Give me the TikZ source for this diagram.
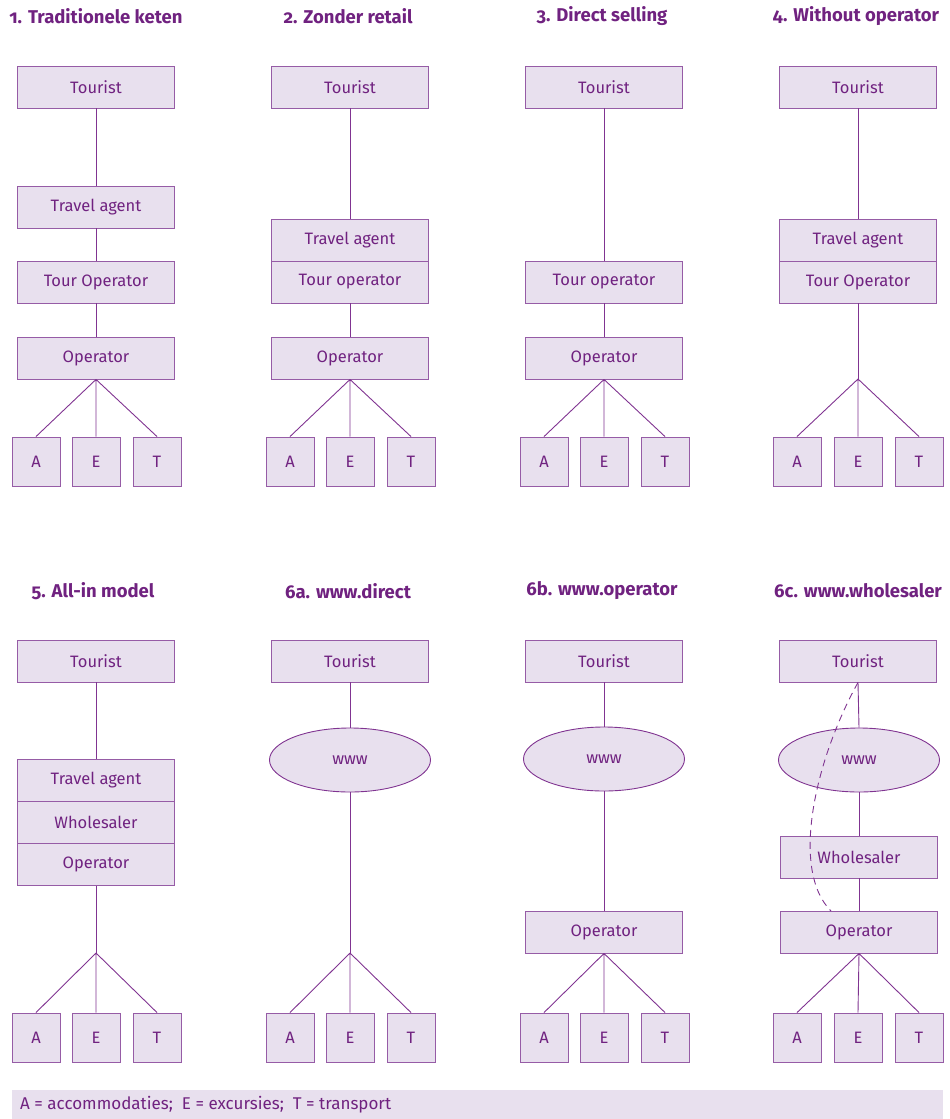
\documentclass[tikz,border=0pt]{standalone}
\usepackage{fontspec}
\setmainfont{Fira Sans}[Numbers=OldStyle]
\usetikzlibrary{shapes.geometric}
\definecolor{ptext}{RGB}{112,34,128}
\definecolor{pline}{RGB}{128,52,145}
\definecolor{pedge}{RGB}{150,92,166}
\definecolor{pfill}{RGB}{232,224,238}
\tikzset{
  box/.style={rectangle, draw=pedge, fill=pfill, line width=0.9pt, minimum width=157pt, minimum height=42pt, inner sep=0pt, text=ptext, font=\fontsize{16.5}{19}\selectfont},
  small/.style={box, minimum width=48pt, minimum height=49pt},
  web/.style={ellipse, draw=pline, fill=pfill, line width=0.9pt, minimum width=161pt, minimum height=64pt, inner sep=0pt, text=ptext, font=\fontsize{16.5}{19}\selectfont},
  title/.style={text=ptext, font=\bfseries\fontsize{18.5}{22}\selectfont, inner sep=0pt},
  conn/.style={draw=pline, line width=0.9pt},
}
\begin{document}
\begin{tikzpicture}[x=1pt,y=-1pt]
\useasboundingbox (0,0) rectangle (950,1119);
% titles
\node[title] (h1) at (96,16) {1. Traditionele keten};
\node[title] (h2) at (348,16) {2. Zonder retail};
\node[title] (h3) at (602,16) {3. Direct selling};
\node[title] (h4) at (856,16) {4. Without operator};
\node[title] (h5) at (93,591) {5. All-in model};
\node[title] (h6) at (348,591) {6a. www.direct};
\node[title] (h7) at (602,591) {6b. www.operator};
\node[title] (h8) at (858,591) {6c. www.wholesaler};
% panel 1
\node[box] (t1) at (96,87) {Tourist};
\node[box] (ta1) at (96,207) {Travel agent};
\node[box] (to1) at (96,282) {Tour Operator};
\node[box] (o1) at (96,358) {Operator};
\node[small] (a1) at (36,461.5) {A};
\node[small] (e1) at (96,461.5) {E};
\node[small] (x1) at (157,461.5) {T};
\draw[conn] (t1.south) -- (ta1.north);
\draw[conn] (ta1.south) -- (to1.north);
\draw[conn] (to1.south) -- (o1.north);
\draw[conn] (o1.south) -- (a1.north) (o1.south) -- (e1.north) (o1.south) -- (x1.north);
% panel 2
\node[box] (t2) at (350,87) {Tourist};
\node[box] (ta2) at (350,240) {Travel agent};
\node[box] (to2) at (350,282) {Tour operator};
\node[box] (o2) at (350,358) {Operator};
\node[small] (a2) at (290,461.5) {A};
\node[small] (e2) at (350,461.5) {E};
\node[small] (x2) at (411,461.5) {T};
\draw[conn] (t2.south) -- (ta2.north);
\draw[conn] (to2.south) -- (o2.north);
\draw[conn] (o2.south) -- (a2.north) (o2.south) -- (e2.north) (o2.south) -- (x2.north);
% panel 3
\node[box] (t3) at (604,87) {Tourist};
\node[box] (to3) at (604,282) {Tour operator};
\node[box] (o3) at (604,358) {Operator};
\node[small] (a3) at (544,461.5) {A};
\node[small] (e3) at (604,461.5) {E};
\node[small] (x3) at (665,461.5) {T};
\draw[conn] (t3.south) -- (to3.north);
\draw[conn] (to3.south) -- (o3.north);
\draw[conn] (o3.south) -- (a3.north) (o3.south) -- (e3.north) (o3.south) -- (x3.north);
% panel 4
\node[box] (t4) at (858,87) {Tourist};
\node[box] (ta4) at (858,240) {Travel agent};
\node[box] (to4) at (858,282) {Tour Operator};
\coordinate (f4) at (858,379);
\node[small] (a4) at (797,461.5) {A};
\node[small] (e4) at (858,461.5) {E};
\node[small] (x4) at (919,461.5) {T};
\draw[conn] (t4.south) -- (ta4.north);
\draw[conn] (to4.south) -- (f4);
\draw[conn] (f4) -- (a4.north) (f4) -- (e4.north) (f4) -- (x4.north);
% panel 5
\node[box] (t5) at (96,661) {Tourist};
\node[box] (ta5) at (96,780) {Travel agent};
\node[box] (w5) at (96,822) {Wholesaler};
\node[box] (o5) at (96,864.5) {Operator};
\coordinate (f5) at (96,953);
\node[small] (a5) at (36,1037.5) {A};
\node[small] (e5) at (96,1037.5) {E};
\node[small] (x5) at (157,1037.5) {T};
\draw[conn] (t5.south) -- (ta5.north);
\draw[conn] (o5.south) -- (f5);
\draw[conn] (f5) -- (a5.north) (f5) -- (e5.north) (f5) -- (x5.north);
% panel 6a
\node[box] (t6) at (350,661) {Tourist};
\node[web] (w6) at (350,760) {www};
\coordinate (f6) at (350,953);
\node[small] (a6) at (290,1037.5) {A};
\node[small] (e6) at (350,1037.5) {E};
\node[small] (x6) at (411,1037.5) {T};
\draw[conn] (t6.south) -- (w6.north);
\draw[conn] (w6.south) -- (f6);
\draw[conn] (f6) -- (a6.north) (f6) -- (e6.north) (f6) -- (x6.north);
% panel 6b
\node[box] (t7) at (604,661) {Tourist};
\node[web] (w7) at (604,759) {www};
\node[box] (o7) at (604,932) {Operator};
\node[small] (a7) at (544,1037.5) {A};
\node[small] (e7) at (604,1037.5) {E};
\node[small] (x7) at (665,1037.5) {T};
\draw[conn] (t7.south) -- (w7.north);
\draw[conn] (w7.south) -- (o7.north);
\draw[conn] (o7.south) -- (a7.north) (o7.south) -- (e7.north) (o7.south) -- (x7.north);
% panel 6c
\node[box] (t8) at (858,661) {Tourist};
\node[web] (w8) at (859,760) {www};
\node[box] (ws8) at (859,857) {Wholesaler};
\node[box] (o8) at (859,932) {Operator};
\node[small] (a8) at (797,1037.5) {A};
\node[small] (e8) at (858,1037.5) {E};
\node[small] (x8) at (919,1037.5) {T};
\coordinate (d8) at (831,911);
\draw[conn] (t8.south) -- (w8.north);
\draw[conn] (w8.south) -- (ws8.north);
\draw[conn] (ws8.south) -- (o8.north);
\draw[conn] (o8.south) -- (a8.north) (o8.south) -- (e8.north) (o8.south) -- (x8.north);
\draw[conn, dash pattern=on 7pt off 5pt] (t8.south) .. controls (815,760) and (790,870) .. (d8);
% legend
\node[rectangle, fill=pfill, minimum width=931pt, minimum height=29pt, anchor=north west, inner sep=0pt] (lg) at (12,1090) {};
\node[anchor=west, text=ptext, font=\fontsize{17}{20}\selectfont, inner sep=0pt] (lt) at (20,1105) {A = accommodaties;\ \ E = excursies;\ \ T = transport};
\end{tikzpicture}
\end{document}
